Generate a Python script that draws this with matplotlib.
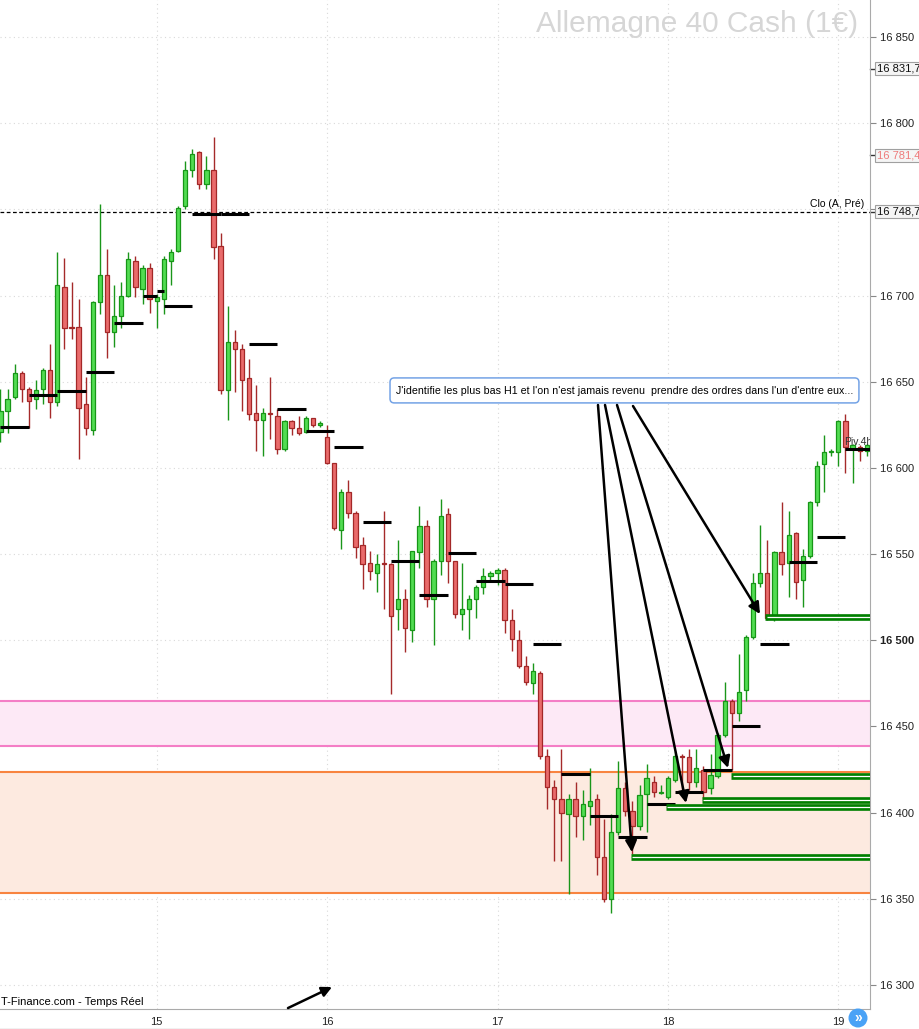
import numpy as np
import matplotlib.pyplot as plt
from matplotlib.patches import FancyBboxPatch, Ellipse
from matplotlib.lines import Line2D
from matplotlib.transforms import blended_transform_factory

plt.rcParams['font.family'] = ['Liberation Sans', 'DejaVu Sans']

# hourly candles (index 0 = first visible hour)
opens = [16621, 16633, 16641, 16655, 16646, 16640, 16646, 16657, 16638, 16705,
         16682, 16682, 16637, 16622, 16696, 16712, 16679, 16688, 16700, 16720,
         16704, 16716, 16697, 16698, 16720, 16726, 16752, 16773, 16783, 16765,
         16773, 16729, 16645, 16673, 16669, 16652, 16632, 16628, 16632, 16630,
         16611, 16627, 16623, 16621, 16629, 16625, 16618, 16603, 16564, 16586,
         16574, 16555, 16545, 16539, 16545, 16544, 16518, 16524, 16506, 16551,
         16566, 16524, 16546, 16573, 16546, 16515, 16518, 16524, 16531, 16537,
         16539, 16541, 16512, 16500, 16485, 16475, 16481, 16433, 16415, 16408,
         16399, 16408, 16398, 16404, 16408, 16374, 16350, 16389, 16414, 16401,
         16392, 16411, 16418, 16411.5, 16409, 16419, 16433, 16432, 16418, 16425,
         16414, 16421, 16445, 16465, 16458, 16471, 16502, 16533, 16539, 16513,
         16551, 16545, 16562, 16535, 16549, 16580, 16602, 16609, 16609, 16627,
         16611, 16612, 16610]
highs = [16646, 16646, 16660, 16656, 16647, 16651, 16658, 16672, 16725, 16722,
         16708, 16698, 16653, 16697, 16753, 16727, 16706, 16708, 16725, 16723,
         16718, 16719, 16701, 16723, 16727, 16752, 16778, 16785, 16784, 16781,
         16792, 16736, 16694, 16680, 16672, 16663, 16648, 16635, 16653, 16634,
         16628, 16628, 16630, 16630, 16629, 16627, 16625, 16603, 16588, 16593,
         16575, 16560, 16552, 16550, 16575, 16545, 16558, 16530, 16552, 16578,
         16570, 16547, 16582, 16577, 16546, 16545, 16526, 16532, 16542, 16540,
         16542, 16542, 16518, 16506, 16491, 16487, 16482, 16437, 16419, 16437,
         16411, 16418, 16413, 16426, 16411, 16396, 16399, 16430, 16418, 16407,
         16416, 16428, 16421, 16416, 16421, 16436, 16434, 16437, 16437, 16427,
         16434, 16446, 16476, 16466, 16492, 16503, 16539, 16567, 16558, 16552,
         16580, 16575, 16563, 16553, 16581, 16604, 16619, 16611, 16628, 16631,
         16614, 16613, 16614]
lows = [16615, 16620, 16640, 16638, 16623, 16634, 16637, 16629, 16636, 16669,
        16675, 16605, 16619, 16619, 16689, 16664, 16670, 16681, 16699, 16699,
        16695, 16690, 16681, 16689, 16706, 16725, 16750, 16769, 16762, 16762,
        16721, 16643, 16628, 16644, 16633, 16628, 16610, 16607, 16617, 16608,
        16610, 16619, 16619, 16620, 16624, 16624, 16602, 16564, 16553, 16571,
        16548, 16530, 16535, 16528, 16518, 16469, 16506, 16493, 16499, 16542,
        16519, 16497, 16538, 16533, 16513, 16506, 16501, 16513, 16527, 16535,
        16532, 16504, 16494, 16484, 16474, 16469, 16431, 16402, 16372, 16372,
        16353, 16386, 16384, 16393, 16364, 16348, 16342, 16387, 16398, 16376,
        16390, 16389, 16409, 16411, 16408, 16418, 16410, 16413, 16415, 16408,
        16411, 16420, 16444, 16425, 16453, 16465, 16501, 16531, 16512, 16511,
        16538, 16525, 16524, 16519, 16548, 16578, 16586, 16607, 16601, 16597,
        16591, 16604, 16607]
closes = [16633, 16640, 16655, 16646, 16639, 16645, 16657, 16638, 16706, 16681,
          16681, 16635, 16623, 16696, 16712, 16679, 16688, 16700, 16721, 16705,
          16716, 16698, 16699, 16721, 16725, 16751, 16773, 16782, 16765, 16773,
          16728, 16645, 16673, 16669, 16651, 16631, 16628, 16632, 16631, 16611,
          16627, 16623, 16620, 16629, 16625, 16626, 16603, 16565, 16586, 16574,
          16554, 16544, 16540, 16544, 16544, 16514, 16524, 16507, 16552, 16566,
          16524, 16546, 16572, 16546, 16515, 16518, 16524, 16531, 16537, 16539,
          16541, 16512, 16501, 16485, 16476, 16482, 16433, 16415, 16408, 16400,
          16408, 16398, 16405, 16407, 16374, 16350, 16389, 16414, 16401, 16392,
          16410, 16420, 16412, 16412, 16420, 16433, 16432, 16418, 16426, 16412,
          16422, 16445, 16465, 16458, 16470, 16502, 16533, 16539, 16513, 16551,
          16544, 16561, 16534, 16549, 16580, 16601, 16609, 16610, 16627, 16612,
          16613, 16610, 16613]

# 4h pivot segments: start index, end index, level
piv_start = [0, 4, 8, 12, 16, 20, 22, 23, 27, 31, 35, 39, 43, 47, 51, 55, 59, 63,
             67, 71, 75, 79, 83, 87, 91, 95, 99, 103, 107, 111, 115, 119]
piv_end = [4, 8, 12, 16, 20, 22, 23, 27, 31, 35, 39, 43, 47, 51, 55, 59, 63, 67,
           71, 75, 79, 83, 87, 91, 95, 99, 103, 107, 111, 115, 119, 123]
piv_level = [16624, 16642.3, 16644.8, 16655.8, 16684.2, 16699.9, 16702.8, 16694.1,
             16747.5, 16747.5, 16672, 16634.4, 16621.6, 16612.3, 16568.8, 16546.2,
             16526.4, 16550.8, 16534.5, 16532.8, 16498, 16422.6, 16398.2, 16386,
             16405.2, 16412.2, 16425, 16450, 16498, 16545.6, 16560.1, 16611.1]

# H1 lows marked with green double lines
low_start = [88.8, 93.7, 98.8, 102.9, 107.7]
low_level = [16374.4, 16403.3, 16407.1, 16421.0, 16513.4]

# arrows from the comment box to the lows
arrow_from = [(84.15, 16636.5), (85.14, 16636.5), (86.83, 16636.5), (89.08, 16635.9)]
arrow_to = [(88.94, 16377), (96.55, 16405.6), (102.46, 16425.9), (106.97, 16515.2)]

pink_zone = (16438.6, 16464.9)
orange_zone = (16353.5, 16423.7)
prev_close = 16748.7

day_pos = [22, 46, 70, 94, 118]
day_labels = ['15', '16', '17', '18', '19']

fig = plt.figure(figsize=(9.19, 10.29), dpi=100)
ax = fig.add_axes([0, 20 / 1029, 870 / 919, 1009 / 1029])
ax.set_xlim(-0.07, 122.46)
ax.set_ylim(16286.05, 16871.47)

# grid
for p in range(16300, 16851, 50):
    ax.axhline(p, color='#d9d9d9', lw=0.8, ls=(0, (1, 3)), zorder=0)
for d in day_pos:
    ax.axvline(d, color='#d9d9d9', lw=0.8, ls=(0, (1, 3)), zorder=0)

# zones
ax.axhspan(*pink_zone, fc='#fde9f6', ec='none', zorder=0.5)
ax.axhspan(*orange_zone, fc='#fdeae0', ec='none', zorder=0.5)
for p in pink_zone:
    ax.axhline(p, color='#f47ec6', lw=1.5, zorder=1)
for p in orange_zone:
    ax.axhline(p, color='#f8843f', lw=1.5, zorder=1)

ax.axhline(prev_close, color='black', lw=0.9, ls=(0, (3, 2)), zorder=1)

# candles
o = np.array(opens, float)
h = np.array(highs, float)
l = np.array(lows, float)
c = np.array(closes, float)
idx = np.arange(len(o))
up = c >= o
wick_col = np.where(up, '#1a961a', '#a52a2a')
ax.vlines(idx, l, h, colors=wick_col, lw=1.0, zorder=2)
body_h = np.maximum(np.abs(c - o), 0.4)
ax.bar(idx[up], body_h[up], bottom=np.minimum(o, c)[up], width=0.6,
       color='#52dc52', edgecolor='#179617', lw=0.9, zorder=3)
ax.bar(idx[~up], body_h[~up], bottom=np.minimum(o, c)[~up], width=0.6,
       color='#e96b6b', edgecolor='#a32828', lw=0.9, zorder=3)

# pivots
ax.hlines(piv_level, piv_start, piv_end, colors='black', lw=2.2, zorder=4)
ax.text(118.8, 16612, 'Piv.4h', fontsize=7.5, color='#333333', va='bottom',
        ha='left', zorder=5, clip_on=True)

# green double lines
ax.hlines(low_level, low_start, 130, colors='#008000', lw=4.8, zorder=4)
ax.hlines(low_level, [s + 0.2 for s in low_start], 130, colors='white', lw=0.9, zorder=4.1)

# comment box and arrows
box = FancyBboxPatch((54.86, 16637.7), 66.04, 14.5,
                     boxstyle='round,pad=0,rounding_size=0.6', mutation_aspect=4.1,
                     fc='white', ec='#74a3e6', lw=1.1, zorder=6)
ax.add_patch(box)
ax.text(55.7, 16644.9,
        "J'identifie les plus bas H1 et l'on n'est jamais revenu  prendre des ordres dans l'un d'entre eux...",
        fontsize=7.7, va='center', ha='left', zorder=7)
for a, b in zip(arrow_from, arrow_to):
    ax.annotate('', xy=b, xytext=a, zorder=6,
                arrowprops=dict(arrowstyle='-|>', color='black', lw=1.8,
                                mutation_scale=17, shrinkA=0, shrinkB=0))
ax.annotate('', xy=(46.69, 16298.8), xytext=(40.49, 16286.6),
            arrowprops=dict(arrowstyle='-|>', color='black', lw=1.8,
                            mutation_scale=15, shrinkA=0, shrinkB=0))

# texts
ax.text(858 / 870, 1 - 24 / 1009, 'Allemagne 40 Cash (1€)', transform=ax.transAxes,
        fontsize=21.5, color='#d6d6d6', ha='right', va='center')
ax.text(864 / 870, prev_close + 1.3, 'Clo (A, Pré)', transform=blended_transform_factory(ax.transAxes, ax.transData),
        fontsize=7.5, ha='right', va='bottom')
ax.text(0.001, 7 / 1009, 'T-Finance.com - Temps Réel', transform=ax.transAxes,
        fontsize=8, ha='left', va='center')

# axes
for s in ['top', 'left']:
    ax.spines[s].set_visible(False)
ax.spines['right'].set_color('#aaaaaa')
ax.spines['bottom'].set_color('#aaaaaa')
ax.yaxis.tick_right()
yt = list(range(16300, 16851, 50))
ax.set_yticks(yt)
ax.set_yticklabels(['' if v == 16750 else '{:,}'.format(v).replace(',', ' ') for v in yt],
                   fontsize=8, color='#222222')
ax.get_yticklabels()[yt.index(16500)].set_fontweight('bold')
ax.tick_params(axis='y', length=4, pad=3, color='#888888')
ax.set_xticks(day_pos)
ax.set_xticklabels(day_labels, fontsize=8, color='#222222')
ax.tick_params(axis='x', length=0, pad=6)

tr = blended_transform_factory(ax.transAxes, ax.transData)
for val, txt, col in [(16831.7, '16 831,7', '#111111'), (16781.4, '16 781,4', '#ee7b7b'),
                      (16748.7, '16 748,7', '#111111')]:
    ax.text(1 + 7 / 870, val, txt, transform=tr, fontsize=8, va='center', ha='left',
            color=col, clip_on=False,
            bbox=dict(boxstyle='square,pad=0.15', fc='#f5f5f5', ec='#a0a0a0', lw=0.8))
    ax.plot([1, 1 + 6 / 870], [val, val], transform=tr, color='#333333', lw=1.0,
            clip_on=False)

fig.add_artist(Line2D([0, 848 / 919], [0.5 / 1029, 0.5 / 1029], color='#bbbbbb', lw=1.0,
                      transform=fig.transFigure))
fig.add_artist(Ellipse((858 / 919, 1 - 1018 / 1029), 19 / 919, 19 / 1029,
                       transform=fig.transFigure, fc='#4aa2f6', ec='none'))
fig.text(858 / 919, 1 - 1018 / 1029, '»', color='white', fontsize=10,
         ha='center', va='center', fontweight='bold')

fig.savefig('out.png', dpi=100)
